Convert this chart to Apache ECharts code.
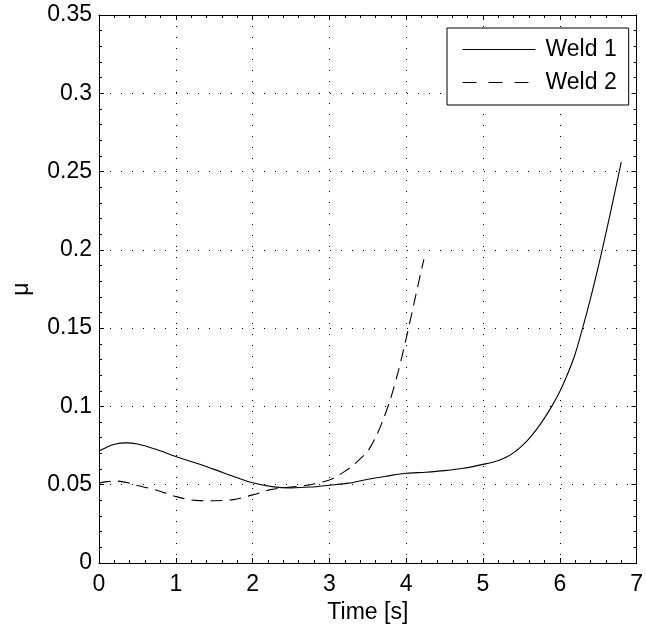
<!DOCTYPE html>
<html>
<head>
<meta charset="utf-8">
<script src="https://cdn.jsdelivr.net/npm/echarts@6/dist/echarts.min.js"></script>
<style>
html,body{margin:0;padding:0;background:#fff;}
#chart{width:646px;height:632px;}
</style>
</head>
<body>
<div id="chart"></div>
<script>
// ---- Data ----
var xTicks = [0, 1, 2, 3, 4, 5, 6, 7];
var yTicks = [0, 0.05, 0.1, 0.15, 0.2, 0.25, 0.3, 0.35];

var weld1T  = [0, 0.1, 0.2, 0.35, 0.5, 0.75, 1.0, 1.25, 1.5, 1.75, 2.0, 2.25, 2.5, 2.75, 3.0, 3.25, 3.5, 3.75, 4.0, 4.25, 4.5, 4.75, 5.0, 5.1, 5.2, 5.3, 5.4, 5.5, 5.6, 5.7, 5.8, 5.9, 6.0, 6.1, 6.2, 6.3, 6.4, 6.5, 6.6, 6.7, 6.8];
var weld1Mu = [0.0715, 0.074, 0.0758, 0.0767, 0.076, 0.0725, 0.068, 0.064, 0.0598, 0.0553, 0.0512, 0.0488, 0.048, 0.0485, 0.0497, 0.051, 0.0535, 0.0555, 0.0573, 0.058, 0.059, 0.0605, 0.063, 0.064, 0.0655, 0.0675, 0.0705, 0.0745, 0.0795, 0.0855, 0.0925, 0.1005, 0.1095, 0.1205, 0.1335, 0.1505, 0.169, 0.189, 0.2105, 0.233, 0.256];

var weld2T  = [0, 0.1, 0.25, 0.4, 0.5, 0.75, 1.0, 1.25, 1.5, 1.75, 2.0, 2.25, 2.5, 2.75, 3.0, 3.1, 3.2, 3.3, 3.4, 3.5, 3.6, 3.7, 3.8, 3.9, 4.0, 4.1, 4.2, 4.23];
var weld2Mu = [0.051, 0.052, 0.0523, 0.051, 0.0495, 0.0465, 0.0425, 0.040, 0.0398, 0.0405, 0.0435, 0.047, 0.0485, 0.050, 0.053, 0.0555, 0.0585, 0.062, 0.0665, 0.0715, 0.080, 0.0915, 0.1055, 0.123, 0.1435, 0.1655, 0.1875, 0.194];

var seriesNames = ['Weld 1', 'Weld 2'];
var xLabel = 'Time [s]';
var yLabel = 'μ';

function pairs(xs, ys) { return xs.map(function (x, i) { return [x, ys[i]]; }); }

var FONT = 'Liberation Sans, Arial, Helvetica, sans-serif';
var FS = 23;

var chart = echarts.init(document.getElementById('chart'), null, {renderer: 'canvas'});

function baseAxis(extra) {
  var a = {
    type: 'value',
    axisLine: {show: true, onZero: false, lineStyle: {color: '#000', width: 1}},
    axisTick: {show: true, inside: true, length: 5, lineStyle: {color: '#000', width: 1}},
    minorTick: {show: true, splitNumber: 5, length: 3, lineStyle: {color: '#000', width: 1}},
    splitLine: {show: false},
    axisLabel: {show: false}
  };
  for (var k in extra) a[k] = extra[k];
  return a;
}

var option = {
  backgroundColor: '#fff',
  animation: false,
  grid: {left: 99, right: 4, top: 15, bottom: 69, containLabel: false},
  xAxis: [
    baseAxis({
      min: xTicks[0], max: xTicks[xTicks.length - 1], interval: 1,
      position: 'bottom',
      name: xLabel, nameLocation: 'middle', nameGap: 34,
      nameTextStyle: {color: '#000', fontSize: FS, fontFamily: FONT},
      axisLabel: {show: true, color: '#000', fontSize: FS, fontFamily: FONT, margin: 10,
        formatter: function (v) { return String(v); }},
      splitLine: {show: true, lineStyle: {color: '#000', width: 1, type: [1, 10]}}
    }),
    baseAxis({
      min: xTicks[0], max: xTicks[xTicks.length - 1], interval: 1,
      position: 'top'
    })
  ],
  yAxis: [
    baseAxis({
      min: yTicks[0], max: yTicks[yTicks.length - 1], interval: 0.05,
      position: 'left',
      name: yLabel, nameLocation: 'middle', nameGap: 66, nameRotate: 90,
      nameTextStyle: {color: '#000', fontSize: FS, fontFamily: FONT},
      axisLabel: {show: true, color: '#000', fontSize: FS, fontFamily: FONT, margin: 7,
        formatter: function (v) { return String(parseFloat(v.toFixed(2))); }},
      splitLine: {show: true, lineStyle: {color: '#000', width: 1, type: [1, 10]}}
    }),
    baseAxis({
      min: yTicks[0], max: yTicks[yTicks.length - 1], interval: 0.05,
      position: 'right'
    })
  ],
  legend: {
    show: true,
    orient: 'vertical',
    left: 447, top: 28,
    padding: [10, 12, 11, 15],
    itemWidth: 73, itemHeight: 23, itemGap: 10,
    backgroundColor: '#fff',
    borderColor: '#000', borderWidth: 1, borderRadius: 0,
    textStyle: {color: '#000', fontSize: FS, fontFamily: FONT, padding: [0, 0, 0, 5]},
    itemStyle: {opacity: 0},
    data: [
      {name: seriesNames[0], itemStyle: {opacity: 0}, lineStyle: {color: '#000', width: 1, type: 'solid'}},
      {name: seriesNames[1], itemStyle: {opacity: 0}, lineStyle: {color: '#000', width: 1, type: [14, 12]}}
    ]
  },
  series: [
    {
      name: seriesNames[0], type: 'line', data: pairs(weld1T, weld1Mu),
      showSymbol: false, symbol: 'none', smooth: 0.3, clip: true,
      lineStyle: {color: '#000', width: 1.1, type: 'solid'},
      itemStyle: {color: '#000'}
    },
    {
      name: seriesNames[1], type: 'line', data: pairs(weld2T, weld2Mu),
      showSymbol: false, symbol: 'none', smooth: 0.3, clip: true,
      lineStyle: {color: '#000', width: 1.1, type: [12, 7]},
      itemStyle: {color: '#000'}
    }
  ]
};
chart.setOption(option);
</script>
</body>
</html>
